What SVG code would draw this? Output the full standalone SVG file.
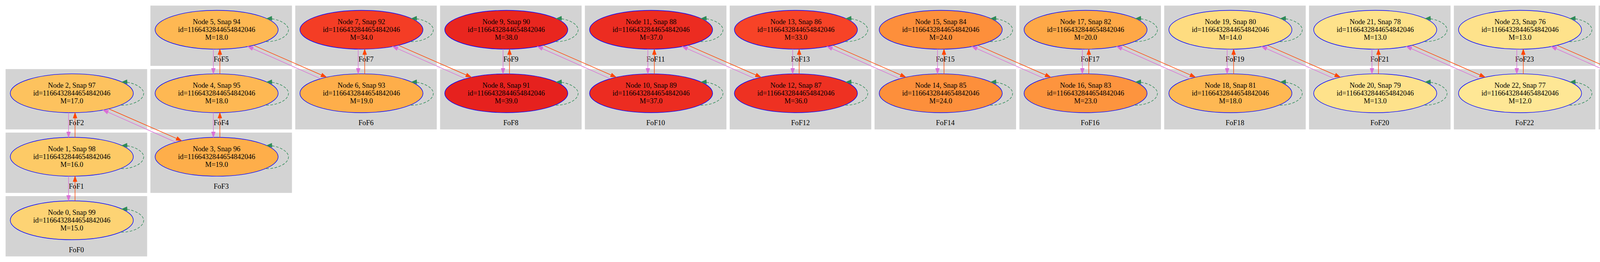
<svg xmlns="http://www.w3.org/2000/svg" width="4840" height="672" viewBox="0 0 4840 672">
<style>
.cl rect{fill:#d3d3d3;stroke:#d3d3d3;stroke-width:1.3}
.cl text{font-family:"Liberation Serif","Times New Roman",serif;font-size:18.3px;text-anchor:middle;fill:#000}
.node ellipse{stroke:#0000ff;stroke-width:1.4}
.node text{font-family:"Liberation Serif","Times New Roman",serif;font-size:18.3px;text-anchor:middle;fill:#000}
.or{fill:none;stroke:#ff4500;stroke-width:1.4;marker-end:url(#aOr)}
.oc{fill:none;stroke:#da70d6;stroke-width:1.4;marker-end:url(#aOc)}
.lp{fill:none;stroke:#2e8b57;stroke-width:1.4;stroke-dasharray:6.7,4;marker-end:url(#aLp)}
</style>
<defs>
<marker id="aOr" markerUnits="userSpaceOnUse" markerWidth="16" markerHeight="12" refX="14" refY="5" orient="auto" overflow="visible"><path d="M0,0 L14,5 L0,10 z" fill="#ff4500" stroke="#ff4500" stroke-width="1"/></marker>
<marker id="aOc" markerUnits="userSpaceOnUse" markerWidth="16" markerHeight="12" refX="14" refY="5" orient="auto" overflow="visible"><path d="M0,0 L14,5 L0,10 z" fill="#da70d6" stroke="#da70d6" stroke-width="1"/></marker>
<marker id="aLp" markerUnits="userSpaceOnUse" markerWidth="16" markerHeight="12" refX="14" refY="5" orient="auto" overflow="visible"><path d="M0,0 L14,5 L0,10 z" fill="#2e8b57" stroke="#2e8b57" stroke-width="1" stroke-dasharray="none"/></marker>
</defs>
<rect x="0" y="0" width="4840" height="672" fill="#ffffff"/>
<g id="clusters">
<g id="cluster_FoF0" class="cl" transform="translate(15,503.7)"><rect width="361" height="153.3"/><text x="180.5" y="143">FoF0</text></g>
<g id="cluster_FoF1" class="cl" transform="translate(15,340.8)"><rect width="361" height="153.3"/><text x="180.5" y="143">FoF1</text></g>
<g id="cluster_FoF2" class="cl" transform="translate(15,177.9)"><rect width="361" height="153.3"/><text x="180.5" y="143">FoF2</text></g>
<g id="cluster_FoF3" class="cl" transform="translate(385.75,340.8)"><rect width="361" height="153.3"/><text x="180.5" y="143">FoF3</text></g>
<g id="cluster_FoF4" class="cl" transform="translate(385.75,177.9)"><rect width="361" height="153.3"/><text x="180.5" y="143">FoF4</text></g>
<g id="cluster_FoF5" class="cl" transform="translate(385.75,15)"><rect width="361" height="153.3"/><text x="180.5" y="143">FoF5</text></g>
<g id="cluster_FoF6" class="cl" transform="translate(756.5,177.9)"><rect width="361" height="153.3"/><text x="180.5" y="143">FoF6</text></g>
<g id="cluster_FoF7" class="cl" transform="translate(756.5,15)"><rect width="361" height="153.3"/><text x="180.5" y="143">FoF7</text></g>
<g id="cluster_FoF8" class="cl" transform="translate(1127.25,177.9)"><rect width="361" height="153.3"/><text x="180.5" y="143">FoF8</text></g>
<g id="cluster_FoF9" class="cl" transform="translate(1127.25,15)"><rect width="361" height="153.3"/><text x="180.5" y="143">FoF9</text></g>
<g id="cluster_FoF10" class="cl" transform="translate(1498,177.9)"><rect width="361" height="153.3"/><text x="180.5" y="143">FoF10</text></g>
<g id="cluster_FoF11" class="cl" transform="translate(1498,15)"><rect width="361" height="153.3"/><text x="180.5" y="143">FoF11</text></g>
<g id="cluster_FoF12" class="cl" transform="translate(1868.75,177.9)"><rect width="361" height="153.3"/><text x="180.5" y="143">FoF12</text></g>
<g id="cluster_FoF13" class="cl" transform="translate(1868.75,15)"><rect width="361" height="153.3"/><text x="180.5" y="143">FoF13</text></g>
<g id="cluster_FoF14" class="cl" transform="translate(2239.5,177.9)"><rect width="361" height="153.3"/><text x="180.5" y="143">FoF14</text></g>
<g id="cluster_FoF15" class="cl" transform="translate(2239.5,15)"><rect width="361" height="153.3"/><text x="180.5" y="143">FoF15</text></g>
<g id="cluster_FoF16" class="cl" transform="translate(2610.25,177.9)"><rect width="361" height="153.3"/><text x="180.5" y="143">FoF16</text></g>
<g id="cluster_FoF17" class="cl" transform="translate(2610.25,15)"><rect width="361" height="153.3"/><text x="180.5" y="143">FoF17</text></g>
<g id="cluster_FoF18" class="cl" transform="translate(2981,177.9)"><rect width="361" height="153.3"/><text x="180.5" y="143">FoF18</text></g>
<g id="cluster_FoF19" class="cl" transform="translate(2981,15)"><rect width="361" height="153.3"/><text x="180.5" y="143">FoF19</text></g>
<g id="cluster_FoF20" class="cl" transform="translate(3351.75,177.9)"><rect width="361" height="153.3"/><text x="180.5" y="143">FoF20</text></g>
<g id="cluster_FoF21" class="cl" transform="translate(3351.75,15)"><rect width="361" height="153.3"/><text x="180.5" y="143">FoF21</text></g>
<g id="cluster_FoF22" class="cl" transform="translate(3722.5,177.9)"><rect width="361" height="153.3"/><text x="180.5" y="143">FoF22</text></g>
<g id="cluster_FoF23" class="cl" transform="translate(3722.5,15)"><rect width="361" height="153.3"/><text x="180.5" y="143">FoF23</text></g>
<g id="cluster_FoF24" class="cl" transform="translate(4093.25,177.9)"><rect width="361" height="153.3"/><text x="180.5" y="143">FoF24</text></g>
<g id="cluster_FoF25" class="cl" transform="translate(4093.25,15)"><rect width="361" height="153.3"/><text x="180.5" y="143">FoF25</text></g>
<g id="cluster_FoF26" class="cl" transform="translate(4464,177.9)"><rect width="361" height="153.3"/><text x="180.5" y="143">FoF26</text></g>
<g id="cluster_FoF27" class="cl" transform="translate(4464,15)"><rect width="361" height="153.3"/><text x="180.5" y="143">FoF27</text></g>
</g>
<g id="nodes">
<g id="node0" class="node" transform="translate(183.8,565)"><ellipse rx="157.5" ry="49.8" fill="#fdd374"/><text><tspan x="0" y="-14.5">Node 0, Snap 99</tspan><tspan x="0" y="5.5">id=1166432844654842046</tspan><tspan x="0" y="25.5">M=15.0</tspan></text></g>
<g id="node1" class="node" transform="translate(183.8,402.1)"><ellipse rx="157.5" ry="49.8" fill="#fdca66"/><text><tspan x="0" y="-14.5">Node 1, Snap 98</tspan><tspan x="0" y="5.5">id=1166432844654842046</tspan><tspan x="0" y="25.5">M=16.0</tspan></text></g>
<g id="node2" class="node" transform="translate(183.8,239.2)"><ellipse rx="157.5" ry="49.8" fill="#fdc25e"/><text><tspan x="0" y="-14.5">Node 2, Snap 97</tspan><tspan x="0" y="5.5">id=1166432844654842046</tspan><tspan x="0" y="25.5">M=17.0</tspan></text></g>
<g id="node3" class="node" transform="translate(554.55,402.1)"><ellipse rx="157.5" ry="49.8" fill="#feae4a"/><text><tspan x="0" y="-14.5">Node 3, Snap 96</tspan><tspan x="0" y="5.5">id=1166432844654842046</tspan><tspan x="0" y="25.5">M=19.0</tspan></text></g>
<g id="node4" class="node" transform="translate(554.55,239.2)"><ellipse rx="157.5" ry="49.8" fill="#feb853"/><text><tspan x="0" y="-14.5">Node 4, Snap 95</tspan><tspan x="0" y="5.5">id=1166432844654842046</tspan><tspan x="0" y="25.5">M=18.0</tspan></text></g>
<g id="node5" class="node" transform="translate(554.55,76.3)"><ellipse rx="157.5" ry="49.8" fill="#feb853"/><text><tspan x="0" y="-14.5">Node 5, Snap 94</tspan><tspan x="0" y="5.5">id=1166432844654842046</tspan><tspan x="0" y="25.5">M=18.0</tspan></text></g>
<g id="node6" class="node" transform="translate(925.3,239.2)"><ellipse rx="157.5" ry="49.8" fill="#feae4a"/><text><tspan x="0" y="-14.5">Node 6, Snap 93</tspan><tspan x="0" y="5.5">id=1166432844654842046</tspan><tspan x="0" y="25.5">M=19.0</tspan></text></g>
<g id="node7" class="node" transform="translate(925.3,76.3)"><ellipse rx="157.5" ry="49.8" fill="#f43d25"/><text><tspan x="0" y="-14.5">Node 7, Snap 92</tspan><tspan x="0" y="5.5">id=1166432844654842046</tspan><tspan x="0" y="25.5">M=34.0</tspan></text></g>
<g id="node8" class="node" transform="translate(1296.05,239.2)"><ellipse rx="157.5" ry="49.8" fill="#e6211e"/><text><tspan x="0" y="-14.5">Node 8, Snap 91</tspan><tspan x="0" y="5.5">id=1166432844654842046</tspan><tspan x="0" y="25.5">M=39.0</tspan></text></g>
<g id="node9" class="node" transform="translate(1296.05,76.3)"><ellipse rx="157.5" ry="49.8" fill="#e9261f"/><text><tspan x="0" y="-14.5">Node 9, Snap 90</tspan><tspan x="0" y="5.5">id=1166432844654842046</tspan><tspan x="0" y="25.5">M=38.0</tspan></text></g>
<g id="node10" class="node" transform="translate(1666.8,239.2)"><ellipse rx="157.5" ry="49.8" fill="#ec2c21"/><text><tspan x="0" y="-14.5">Node 10, Snap 89</tspan><tspan x="0" y="5.5">id=1166432844654842046</tspan><tspan x="0" y="25.5">M=37.0</tspan></text></g>
<g id="node11" class="node" transform="translate(1666.8,76.3)"><ellipse rx="157.5" ry="49.8" fill="#ec2c21"/><text><tspan x="0" y="-14.5">Node 11, Snap 88</tspan><tspan x="0" y="5.5">id=1166432844654842046</tspan><tspan x="0" y="25.5">M=37.0</tspan></text></g>
<g id="node12" class="node" transform="translate(2037.55,239.2)"><ellipse rx="157.5" ry="49.8" fill="#ee3122"/><text><tspan x="0" y="-14.5">Node 12, Snap 87</tspan><tspan x="0" y="5.5">id=1166432844654842046</tspan><tspan x="0" y="25.5">M=36.0</tspan></text></g>
<g id="node13" class="node" transform="translate(2037.55,76.3)"><ellipse rx="157.5" ry="49.8" fill="#f74327"/><text><tspan x="0" y="-14.5">Node 13, Snap 86</tspan><tspan x="0" y="5.5">id=1166432844654842046</tspan><tspan x="0" y="25.5">M=33.0</tspan></text></g>
<g id="node14" class="node" transform="translate(2408.3,239.2)"><ellipse rx="157.5" ry="49.8" fill="#fd8f3b"/><text><tspan x="0" y="-14.5">Node 14, Snap 85</tspan><tspan x="0" y="5.5">id=1166432844654842046</tspan><tspan x="0" y="25.5">M=24.0</tspan></text></g>
<g id="node15" class="node" transform="translate(2408.3,76.3)"><ellipse rx="157.5" ry="49.8" fill="#fd8f3b"/><text><tspan x="0" y="-14.5">Node 15, Snap 84</tspan><tspan x="0" y="5.5">id=1166432844654842046</tspan><tspan x="0" y="25.5">M=24.0</tspan></text></g>
<g id="node16" class="node" transform="translate(2779.05,239.2)"><ellipse rx="157.5" ry="49.8" fill="#fd943e"/><text><tspan x="0" y="-14.5">Node 16, Snap 83</tspan><tspan x="0" y="5.5">id=1166432844654842046</tspan><tspan x="0" y="25.5">M=23.0</tspan></text></g>
<g id="node17" class="node" transform="translate(2779.05,76.3)"><ellipse rx="157.5" ry="49.8" fill="#fea847"/><text><tspan x="0" y="-14.5">Node 17, Snap 82</tspan><tspan x="0" y="5.5">id=1166432844654842046</tspan><tspan x="0" y="25.5">M=20.0</tspan></text></g>
<g id="node18" class="node" transform="translate(3149.8,239.2)"><ellipse rx="157.5" ry="49.8" fill="#feb853"/><text><tspan x="0" y="-14.5">Node 18, Snap 81</tspan><tspan x="0" y="5.5">id=1166432844654842046</tspan><tspan x="0" y="25.5">M=18.0</tspan></text></g>
<g id="node19" class="node" transform="translate(3149.8,76.3)"><ellipse rx="157.5" ry="49.8" fill="#fedc80"/><text><tspan x="0" y="-14.5">Node 19, Snap 80</tspan><tspan x="0" y="5.5">id=1166432844654842046</tspan><tspan x="0" y="25.5">M=14.0</tspan></text></g>
<g id="node20" class="node" transform="translate(3520.55,239.2)"><ellipse rx="157.5" ry="49.8" fill="#fee28b"/><text><tspan x="0" y="-14.5">Node 20, Snap 79</tspan><tspan x="0" y="5.5">id=1166432844654842046</tspan><tspan x="0" y="25.5">M=13.0</tspan></text></g>
<g id="node21" class="node" transform="translate(3520.55,76.3)"><ellipse rx="157.5" ry="49.8" fill="#fee28b"/><text><tspan x="0" y="-14.5">Node 21, Snap 78</tspan><tspan x="0" y="5.5">id=1166432844654842046</tspan><tspan x="0" y="25.5">M=13.0</tspan></text></g>
<g id="node22" class="node" transform="translate(3891.3,239.2)"><ellipse rx="157.5" ry="49.8" fill="#fee795"/><text><tspan x="0" y="-14.5">Node 22, Snap 77</tspan><tspan x="0" y="5.5">id=1166432844654842046</tspan><tspan x="0" y="25.5">M=12.0</tspan></text></g>
<g id="node23" class="node" transform="translate(3891.3,76.3)"><ellipse rx="157.5" ry="49.8" fill="#fee28b"/><text><tspan x="0" y="-14.5">Node 23, Snap 76</tspan><tspan x="0" y="5.5">id=1166432844654842046</tspan><tspan x="0" y="25.5">M=13.0</tspan></text></g>
<g id="node24" class="node" transform="translate(4262.05,239.2)"><ellipse rx="157.5" ry="49.8" fill="#ffeda0"/><text><tspan x="0" y="-14.5">Node 24, Snap 75</tspan><tspan x="0" y="5.5">id=1166432844654842046</tspan><tspan x="0" y="25.5">M=11.0</tspan></text></g>
<g id="node25" class="node" transform="translate(4262.05,76.3)"><ellipse rx="157.5" ry="49.8" fill="#fee795"/><text><tspan x="0" y="-14.5">Node 25, Snap 74</tspan><tspan x="0" y="5.5">id=1166432844654842046</tspan><tspan x="0" y="25.5">M=12.0</tspan></text></g>
<g id="node26" class="node" transform="translate(4632.8,239.2)"><ellipse rx="157.5" ry="49.8" fill="#fee795"/><text><tspan x="0" y="-14.5">Node 26, Snap 73</tspan><tspan x="0" y="5.5">id=1166432844654842046</tspan><tspan x="0" y="25.5">M=12.0</tspan></text></g>
<g id="node27" class="node" transform="translate(4632.8,76.3)"><ellipse rx="157.5" ry="49.8" fill="#fedc80"/><text><tspan x="0" y="-14.5">Node 27, Snap 72</tspan><tspan x="0" y="5.5">id=1166432844654842046</tspan><tspan x="0" y="25.5">M=14.0</tspan></text></g>
</g>
<g id="edges">
<g id="e0_1" transform="translate(183.8,402.1)"><path class="oc" d="M-8.3,49.7 L-8.3,113.2"/><path class="or" d="M8.3,113.2 L8.3,49.7"/></g>
<g id="e1_2" transform="translate(183.8,239.2)"><path class="oc" d="M-8.3,49.7 L-8.3,113.2"/><path class="or" d="M8.3,113.2 L8.3,49.7"/></g>
<g id="e3_4" transform="translate(554.55,239.2)"><path class="oc" d="M-8.3,49.7 L-8.3,113.2"/><path class="or" d="M8.3,113.2 L8.3,49.7"/></g>
<g id="e4_5" transform="translate(554.55,76.3)"><path class="oc" d="M-8.3,49.7 L-8.3,113.2"/><path class="or" d="M8.3,113.2 L8.3,49.7"/></g>
<g id="e6_7" transform="translate(925.3,76.3)"><path class="oc" d="M-8.3,49.7 L-8.3,113.2"/><path class="or" d="M8.3,113.2 L8.3,49.7"/></g>
<g id="e8_9" transform="translate(1296.05,76.3)"><path class="oc" d="M-8.3,49.7 L-8.3,113.2"/><path class="or" d="M8.3,113.2 L8.3,49.7"/></g>
<g id="e10_11" transform="translate(1666.8,76.3)"><path class="oc" d="M-8.3,49.7 L-8.3,113.2"/><path class="or" d="M8.3,113.2 L8.3,49.7"/></g>
<g id="e12_13" transform="translate(2037.55,76.3)"><path class="oc" d="M-8.3,49.7 L-8.3,113.2"/><path class="or" d="M8.3,113.2 L8.3,49.7"/></g>
<g id="e14_15" transform="translate(2408.3,76.3)"><path class="oc" d="M-8.3,49.7 L-8.3,113.2"/><path class="or" d="M8.3,113.2 L8.3,49.7"/></g>
<g id="e16_17" transform="translate(2779.05,76.3)"><path class="oc" d="M-8.3,49.7 L-8.3,113.2"/><path class="or" d="M8.3,113.2 L8.3,49.7"/></g>
<g id="e18_19" transform="translate(3149.8,76.3)"><path class="oc" d="M-8.3,49.7 L-8.3,113.2"/><path class="or" d="M8.3,113.2 L8.3,49.7"/></g>
<g id="e20_21" transform="translate(3520.55,76.3)"><path class="oc" d="M-8.3,49.7 L-8.3,113.2"/><path class="or" d="M8.3,113.2 L8.3,49.7"/></g>
<g id="e22_23" transform="translate(3891.3,76.3)"><path class="oc" d="M-8.3,49.7 L-8.3,113.2"/><path class="or" d="M8.3,113.2 L8.3,49.7"/></g>
<g id="e24_25" transform="translate(4262.05,76.3)"><path class="oc" d="M-8.3,49.7 L-8.3,113.2"/><path class="or" d="M8.3,113.2 L8.3,49.7"/></g>
<g id="e26_27" transform="translate(4632.8,76.3)"><path class="oc" d="M-8.3,49.7 L-8.3,113.2"/><path class="or" d="M8.3,113.2 L8.3,49.7"/></g>
<g id="e2_3" transform="translate(183.8,239.2)"><path class="or" d="M95.5,40.3 L281.25,121.7"/><path class="oc" d="M265.55,125.3 L79.5,42.7"/></g>
<g id="e5_6" transform="translate(554.55,76.3)"><path class="or" d="M95.5,40.3 L281.25,121.7"/><path class="oc" d="M265.55,125.3 L79.5,42.7"/></g>
<g id="e7_8" transform="translate(925.3,76.3)"><path class="or" d="M95.5,40.3 L281.25,121.7"/><path class="oc" d="M265.55,125.3 L79.5,42.7"/></g>
<g id="e9_10" transform="translate(1296.05,76.3)"><path class="or" d="M95.5,40.3 L281.25,121.7"/><path class="oc" d="M265.55,125.3 L79.5,42.7"/></g>
<g id="e11_12" transform="translate(1666.8,76.3)"><path class="or" d="M95.5,40.3 L281.25,121.7"/><path class="oc" d="M265.55,125.3 L79.5,42.7"/></g>
<g id="e13_14" transform="translate(2037.55,76.3)"><path class="or" d="M95.5,40.3 L281.25,121.7"/><path class="oc" d="M265.55,125.3 L79.5,42.7"/></g>
<g id="e15_16" transform="translate(2408.3,76.3)"><path class="or" d="M95.5,40.3 L281.25,121.7"/><path class="oc" d="M265.55,125.3 L79.5,42.7"/></g>
<g id="e17_18" transform="translate(2779.05,76.3)"><path class="or" d="M95.5,40.3 L281.25,121.7"/><path class="oc" d="M265.55,125.3 L79.5,42.7"/></g>
<g id="e19_20" transform="translate(3149.8,76.3)"><path class="or" d="M95.5,40.3 L281.25,121.7"/><path class="oc" d="M265.55,125.3 L79.5,42.7"/></g>
<g id="e21_22" transform="translate(3520.55,76.3)"><path class="or" d="M95.5,40.3 L281.25,121.7"/><path class="oc" d="M265.55,125.3 L79.5,42.7"/></g>
<g id="e23_24" transform="translate(3891.3,76.3)"><path class="or" d="M95.5,40.3 L281.25,121.7"/><path class="oc" d="M265.55,125.3 L79.5,42.7"/></g>
<g id="e25_26" transform="translate(4262.05,76.3)"><path class="or" d="M95.5,40.3 L281.25,121.7"/><path class="oc" d="M265.55,125.3 L79.5,42.7"/></g>
<g id="selfloops">
<path class="lp" transform="translate(183.8,565)" d="M127,30.5 C155,31 184,18 184,0 C184,-15 155,-30.5 127.5,-28.5"/>
<path class="lp" transform="translate(183.8,402.1)" d="M127,30.5 C155,31 184,18 184,0 C184,-15 155,-30.5 127.5,-28.5"/>
<path class="lp" transform="translate(183.8,239.2)" d="M127,30.5 C155,31 184,18 184,0 C184,-15 155,-30.5 127.5,-28.5"/>
<path class="lp" transform="translate(554.55,402.1)" d="M127,30.5 C155,31 184,18 184,0 C184,-15 155,-30.5 127.5,-28.5"/>
<path class="lp" transform="translate(554.55,239.2)" d="M127,30.5 C155,31 184,18 184,0 C184,-15 155,-30.5 127.5,-28.5"/>
<path class="lp" transform="translate(554.55,76.3)" d="M127,30.5 C155,31 184,18 184,0 C184,-15 155,-30.5 127.5,-28.5"/>
<path class="lp" transform="translate(925.3,239.2)" d="M127,30.5 C155,31 184,18 184,0 C184,-15 155,-30.5 127.5,-28.5"/>
<path class="lp" transform="translate(925.3,76.3)" d="M127,30.5 C155,31 184,18 184,0 C184,-15 155,-30.5 127.5,-28.5"/>
<path class="lp" transform="translate(1296.05,239.2)" d="M127,30.5 C155,31 184,18 184,0 C184,-15 155,-30.5 127.5,-28.5"/>
<path class="lp" transform="translate(1296.05,76.3)" d="M127,30.5 C155,31 184,18 184,0 C184,-15 155,-30.5 127.5,-28.5"/>
<path class="lp" transform="translate(1666.8,239.2)" d="M127,30.5 C155,31 184,18 184,0 C184,-15 155,-30.5 127.5,-28.5"/>
<path class="lp" transform="translate(1666.8,76.3)" d="M127,30.5 C155,31 184,18 184,0 C184,-15 155,-30.5 127.5,-28.5"/>
<path class="lp" transform="translate(2037.55,239.2)" d="M127,30.5 C155,31 184,18 184,0 C184,-15 155,-30.5 127.5,-28.5"/>
<path class="lp" transform="translate(2037.55,76.3)" d="M127,30.5 C155,31 184,18 184,0 C184,-15 155,-30.5 127.5,-28.5"/>
<path class="lp" transform="translate(2408.3,239.2)" d="M127,30.5 C155,31 184,18 184,0 C184,-15 155,-30.5 127.5,-28.5"/>
<path class="lp" transform="translate(2408.3,76.3)" d="M127,30.5 C155,31 184,18 184,0 C184,-15 155,-30.5 127.5,-28.5"/>
<path class="lp" transform="translate(2779.05,239.2)" d="M127,30.5 C155,31 184,18 184,0 C184,-15 155,-30.5 127.5,-28.5"/>
<path class="lp" transform="translate(2779.05,76.3)" d="M127,30.5 C155,31 184,18 184,0 C184,-15 155,-30.5 127.5,-28.5"/>
<path class="lp" transform="translate(3149.8,239.2)" d="M127,30.5 C155,31 184,18 184,0 C184,-15 155,-30.5 127.5,-28.5"/>
<path class="lp" transform="translate(3149.8,76.3)" d="M127,30.5 C155,31 184,18 184,0 C184,-15 155,-30.5 127.5,-28.5"/>
<path class="lp" transform="translate(3520.55,239.2)" d="M127,30.5 C155,31 184,18 184,0 C184,-15 155,-30.5 127.5,-28.5"/>
<path class="lp" transform="translate(3520.55,76.3)" d="M127,30.5 C155,31 184,18 184,0 C184,-15 155,-30.5 127.5,-28.5"/>
<path class="lp" transform="translate(3891.3,239.2)" d="M127,30.5 C155,31 184,18 184,0 C184,-15 155,-30.5 127.5,-28.5"/>
<path class="lp" transform="translate(3891.3,76.3)" d="M127,30.5 C155,31 184,18 184,0 C184,-15 155,-30.5 127.5,-28.5"/>
<path class="lp" transform="translate(4262.05,239.2)" d="M127,30.5 C155,31 184,18 184,0 C184,-15 155,-30.5 127.5,-28.5"/>
<path class="lp" transform="translate(4262.05,76.3)" d="M127,30.5 C155,31 184,18 184,0 C184,-15 155,-30.5 127.5,-28.5"/>
<path class="lp" transform="translate(4632.8,239.2)" d="M127,30.5 C155,31 184,18 184,0 C184,-15 155,-30.5 127.5,-28.5"/>
<path class="lp" transform="translate(4632.8,76.3)" d="M127,30.5 C155,31 184,18 184,0 C184,-15 155,-30.5 127.5,-28.5"/>
</g>
</g>
</svg>
